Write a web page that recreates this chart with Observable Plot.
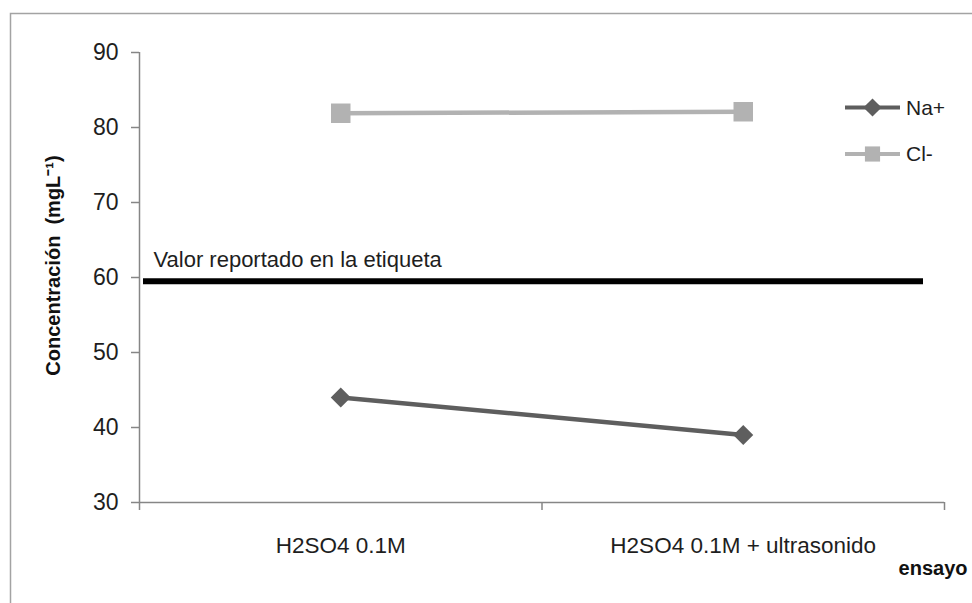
<!DOCTYPE html>
<html>
<head>
<meta charset="utf-8">
<script src="https://cdn.jsdelivr.net/npm/d3@7"></script>
<script src="https://cdn.jsdelivr.net/npm/@observablehq/plot@0.6"></script>
<style>
  body { margin: 0; background: #fff; }
  #chart { position: relative; width: 972px; height: 603px; overflow: hidden; background: #fff; }
  #legend { position: absolute; left: 0; top: 0; pointer-events: none; }
</style>
</head>
<body>
<div id="chart"></div>
<script>
// Trial categories and measured concentrations (mg/L)
const categories = ["H2SO4 0.1M", "H2SO4 0.1M + ultrasonido"];
const seriesNames = ["Na+", "Cl-"];
const naValues = [44.0, 39.0];
const clValues = [81.9, 82.1];
const reportedValue = 59.5;
const reportedLabel = "Valor reportado en la etiqueta";
const yTicks = [30, 40, 50, 60, 70, 80, 90];
const xBoundaries = [0, 1, 2];
const yTitle = "Concentración  (mgL\u207B\u00B9)";
const xTitle = "ensayo";
const seriesColors = ["#5e5e5e", "#b2b2b2"];

// Long-format rows; each category sits in the middle of its unit slot
const rows = [];
categories.forEach((c, i) => {
  rows.push({series: "Na+", category: c, pos: i + 0.5, value: naValues[i]});
  rows.push({series: "Cl-", category: c, pos: i + 0.5, value: clValues[i]});
});

const font = "'Liberation Sans', Arial, sans-serif";
const axisGray = "#868686";
const textColor = "#1e1e1e";

const plot = Plot.plot({
  width: 972,
  height: 603,
  marginLeft: 139,
  marginRight: 28,
  marginTop: 52,
  marginBottom: 101,
  style: {fontFamily: font, fontSize: "21px", color: textColor, background: "#fff"},
  x: {domain: [0, 2]},
  y: {domain: [30, 90]},
  color: {domain: seriesNames, range: seriesColors},
  marks: [
    // chart area border
    Plot.frame({stroke: "#a3a3a3", strokeWidth: 1.5, fill: "none",
      insetLeft: -129, insetTop: -39, insetRight: -60, insetBottom: -140}),
    // axes
    Plot.axisY({ticks: yTicks, tickSize: 8, tickPadding: 13, label: null,
      stroke: axisGray, strokeWidth: 1.5, fill: textColor, fontSize: 23}),
    Plot.axisX({ticks: xBoundaries, tickSize: 8, tickFormat: () => "", label: null,
      stroke: axisGray, strokeWidth: 1.5}),
    Plot.ruleX([0], {stroke: axisGray, strokeWidth: 1.5}),
    Plot.ruleY([30], {stroke: axisGray, strokeWidth: 1.5}),
    // category labels
    Plot.text(categories, {x: (d, i) => i + 0.5, frameAnchor: "bottom", lineAnchor: "bottom",
      dy: 50, fontSize: 22.5, fill: textColor}),
    // axis titles
    Plot.text([xTitle], {frameAnchor: "bottom-right", textAnchor: "end", lineAnchor: "bottom",
      dx: 23, dy: 72, fontWeight: "bold", fontSize: 20, fill: "#111"}),
    Plot.text([yTitle], {frameAnchor: "left", rotate: -90, textAnchor: "middle",
      dx: -86, dy: -12, fontWeight: "bold", fontSize: 20, fill: "#111"}),
    // reported reference value
    Plot.ruleY([reportedValue], {stroke: "#000", strokeWidth: 6, insetLeft: 4, insetRight: 21}),
    Plot.text([reportedLabel], {y: [reportedValue], frameAnchor: "left", textAnchor: "start",
      lineAnchor: "bottom", dx: 14, dy: -14, fontSize: 22, fill: textColor}),
    // series
    Plot.line(rows, {x: "pos", y: "value", z: "series", stroke: "series", strokeWidth: 4.5}),
    Plot.dot(rows.filter(d => d.series === "Cl-"), {x: "pos", y: "value", symbol: "square",
      r: 11, fill: "series", stroke: "none"}),
    Plot.dot(rows.filter(d => d.series === "Na+"), {x: "pos", y: "value", symbol: "diamond2",
      r: 9, fill: "series", stroke: "none"})
  ]
});

const chart = document.getElementById("chart");
chart.appendChild(plot);

// Legend: line + marker swatches with series names
const legend = d3.select(chart).append("svg")
  .attr("id", "legend")
  .attr("width", 972)
  .attr("height", 603)
  .style("font-family", font)
  .style("font-size", "21px");

const legendItems = [
  {name: "Na+", color: seriesColors[0], symbol: d3.symbolDiamond2, size: 210, top: 107.5},
  {name: "Cl-", color: seriesColors[1], symbol: d3.symbolSquare, size: 230, top: 154}
];

const items = legend.selectAll("g").data(legendItems).join("g")
  .attr("transform", d => `translate(845,${d.top})`);
items.append("line")
  .attr("x1", 0).attr("x2", 55)
  .attr("stroke", d => d.color).attr("stroke-width", 4);
items.append("path")
  .attr("transform", "translate(27.5,0)")
  .attr("d", d => d3.symbol(d.symbol, d.size)())
  .attr("fill", d => d.color);
items.append("text")
  .attr("x", 61).attr("dy", "0.35em")
  .attr("fill", textColor)
  .text(d => d.name);
</script>
</body>
</html>
